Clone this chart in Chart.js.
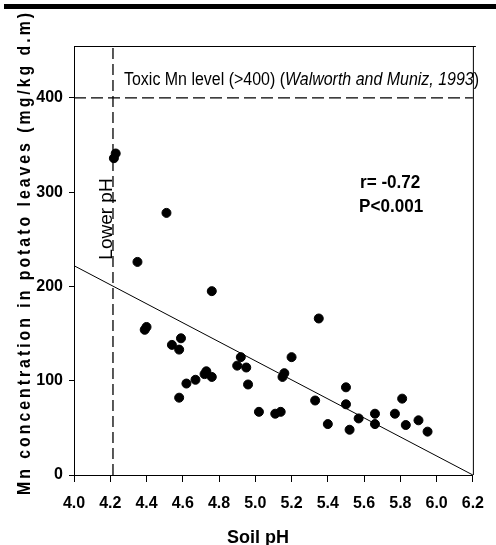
<!DOCTYPE html>
<html>
<head>
<meta charset="utf-8">
<script src="https://cdn.jsdelivr.net/npm/chart.js@4.4.1/dist/chart.umd.min.js"></script>
<style>
    body { margin: 0; background: #fff; }
    #wrap { width: 496px; height: 545px; position: relative; }
</style>
</head>
<body>
<div id="wrap"><canvas id="mnChart"></canvas></div>
<script>
// soil pH vs Mn in potato leaves (mg/kg d.m)
var soilPh = [4.23, 4.22, 4.51, 4.35, 4.76, 4.40, 4.39, 4.59, 4.54, 4.58,
    4.92, 4.90, 4.95, 5.16, 5.15, 4.73, 4.72, 4.76, 4.62, 4.67,
    4.96, 4.58, 5.02, 5.11, 5.14, 5.35, 5.20, 5.33, 5.50, 5.50,
    5.40, 5.57, 5.52, 5.66, 5.66, 5.77, 5.81, 5.83, 5.90, 5.95];
var mnLeaves = [341, 336, 278, 226, 195, 157, 154, 145, 138, 133,
    125, 116, 114, 108, 104, 110, 107, 104, 97, 101,
    96, 82, 67, 65, 67, 166, 125, 79, 93, 75,
    54, 60, 48, 65, 54, 65, 81, 53, 58, 46];

// regression line end points
var fitPh = [4.0, 6.2];
var fitMn = [222, 0];

// reference lines
var toxicLevel = 400;
var lowerPh = 4.215;

var xTicks = [4.0, 4.2, 4.4, 4.6, 4.8, 5.0, 5.2, 5.4, 5.6, 5.8, 6.0, 6.2];
var yTicks = [0, 100, 200, 300, 400];

var FONT = "'Liberation Sans', Arial, sans-serif";

function toPoints(xs, ys) {
    return xs.map(function (x, i) { return { x: x, y: ys[i] }; });
}

// text squeezed a bit sideways, the original uses a narrow face
function narrowText(ctx, text, x, y, sx) {
    ctx.save();
    ctx.translate(x, y);
    ctx.scale(sx, 1);
    ctx.fillText(text, 0, 0);
    ctx.restore();
}

// box, top bar and the free texts
var annotations = {
    id: 'annotations',
    afterDraw: function (chart) {
        var ctx = chart.ctx;
        var area = chart.chartArea;
        ctx.save();

        ctx.fillStyle = '#000';
        ctx.fillRect(4, 4, 492, 5);

        ctx.strokeStyle = '#000';
        ctx.lineWidth = 1;
        ctx.beginPath();
        ctx.moveTo(area.left, area.top + 0.5);
        ctx.lineTo(area.right + 3, area.top + 0.5);
        ctx.moveTo(area.right + 0.5, area.top);
        ctx.lineTo(area.right + 0.5, area.bottom);
        ctx.stroke();

        // toxic level text, fitted between 124 and the right border
        ctx.fillStyle = '#000';
        ctx.textBaseline = 'alphabetic';
        ctx.textAlign = 'left';
        var parts = [
            ['Toxic Mn level (>400) (', 'normal'],
            ['Walworth and Muniz, 1993', 'italic'],
            [')', 'normal']
        ];
        var total = 0;
        parts.forEach(function (p) {
            ctx.font = p[1] + ' 18px ' + FONT;
            total += ctx.measureText(p[0]).width;
        });
        var sx = 355 / total;
        var tx = 124;
        parts.forEach(function (p) {
            ctx.font = p[1] + ' 18px ' + FONT;
            narrowText(ctx, p[0], tx, 85, sx);
            tx += ctx.measureText(p[0]).width * sx;
        });

        // r and P
        ctx.font = 'bold 18px ' + FONT;
        narrowText(ctx, 'r= -0.72', 360, 188, 0.95);
        narrowText(ctx, 'P<0.001', 359, 212, 0.95);

        // Lower pH
        ctx.save();
        ctx.translate(112, 219);
        ctx.rotate(-Math.PI / 2);
        ctx.textAlign = 'center';
        ctx.font = '19px ' + FONT;
        ctx.fillText('Lower pH', 0, 0);
        ctx.restore();

        // x title
        ctx.textAlign = 'center';
        ctx.textBaseline = 'middle';
        ctx.font = 'bold 18px ' + FONT;
        ctx.fillText('Soil pH', 258, 538);

        // y title, spaced letters
        var title = 'Mn concentration in potato leaves (mg/kg d.m)';
        ctx.save();
        ctx.translate(30, 254);
        ctx.rotate(-Math.PI / 2);
        ctx.scale(0.88, 1);
        ctx.font = 'bold 18px ' + FONT;
        ctx.textAlign = 'left';
        ctx.textBaseline = 'alphabetic';
        var full = 482 / 0.88;
        var plain = ctx.measureText(title).width;
        var gap = (full - plain) / (title.length - 1);
        var cx = -full / 2;
        for (var i = 0; i < title.length; i++) {
            ctx.fillText(title[i], cx, 0);
            cx += ctx.measureText(title[i]).width + gap;
        }
        ctx.restore();

        ctx.restore();
    }
};

var data = {
    datasets: [{
        type: 'scatter',
        data: toPoints(soilPh, mnLeaves),
        backgroundColor: '#000',
        borderColor: '#000',
        pointRadius: 4.5,
        pointHoverRadius: 4.5,
        order: 1
    }, {
        type: 'line',
        data: toPoints(fitPh, fitMn),
        borderColor: '#000',
        borderWidth: 1,
        pointRadius: 0,
        fill: false,
        order: 2
    }, {
        type: 'line',
        data: toPoints([4.0, 6.2], [toxicLevel, toxicLevel]),
        borderColor: '#000',
        borderWidth: 1.3,
        borderDash: [12, 5],
        pointRadius: 0,
        fill: false,
        order: 3
    }, {
        type: 'line',
        data: toPoints([lowerPh, lowerPh], [0, 455]),
        borderColor: '#000',
        borderWidth: 1.3,
        borderDash: [11, 5],
        pointRadius: 0,
        fill: false,
        order: 4
    }]
};

var config = {
    type: 'scatter',
    data: data,
    options: {
        animation: false,
        responsive: true,
        maintainAspectRatio: false,
        events: [],
        layout: {
            padding: { top: 46, right: 17, left: 0, bottom: 0 }
        },
        plugins: {
            legend: { display: false },
            tooltip: { enabled: false }
        },
        scales: {
            x: {
                type: 'linear',
                min: 4.0,
                max: 6.2,
                afterFit: function (scale) { scale.height = 70; },
                afterBuildTicks: function (scale) {
                    scale.ticks = xTicks.map(function (v) { return { value: v }; });
                },
                ticks: {
                    color: '#000',
                    padding: 12,
                    maxRotation: 0,
                    font: { family: FONT, size: 16, weight: 'bold' },
                    callback: function (v) { return v.toFixed(1); }
                },
                grid: {
                    drawOnChartArea: false,
                    tickLength: 7,
                    color: '#000'
                },
                border: { color: '#000', width: 1 }
            },
            y: {
                type: 'linear',
                min: 0,
                max: 455,
                afterFit: function (scale) { scale.width = 74; },
                afterBuildTicks: function (scale) {
                    scale.ticks = yTicks.map(function (v) { return { value: v }; });
                },
                ticks: {
                    color: '#000',
                    padding: 6,
                    font: { family: FONT, size: 16, weight: 'bold' }
                },
                grid: {
                    drawOnChartArea: false,
                    tickLength: 5,
                    color: '#000'
                },
                border: { color: '#000', width: 1 }
            }
        }
    },
    plugins: [annotations]
};

var myChart = new Chart(document.getElementById('mnChart'), config);
</script>
</body>
</html>
